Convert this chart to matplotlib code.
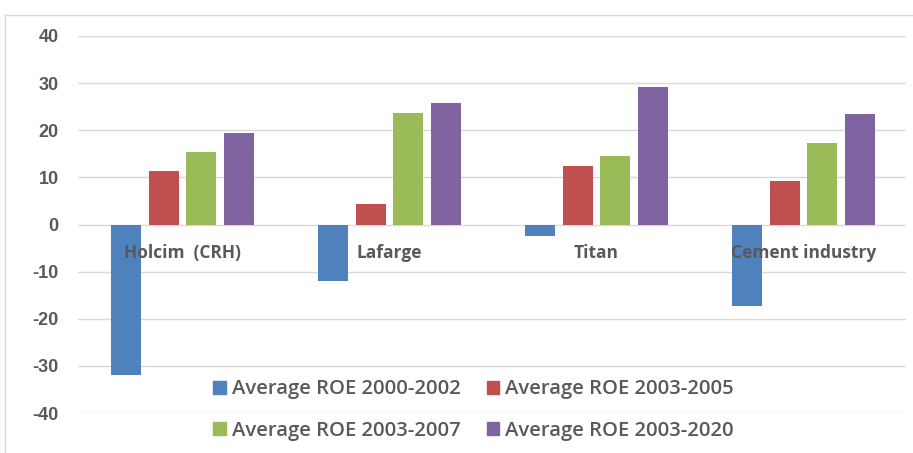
import matplotlib
matplotlib.use("Agg")
import matplotlib.pyplot as plt
from matplotlib.patches import Patch
from matplotlib.lines import Line2D
import numpy as np

categories = ["Holcim  (CRH)", "Lafarge", "Titan", "Cement industry"]
series_names = ["Average ROE 2000-2002", "Average ROE 2003-2005",
                "Average ROE 2003-2007", "Average ROE 2003-2020"]
roe_2000_2002 = [-32.0, -11.9, -2.5, -17.4]
roe_2003_2005 = [11.4, 4.4, 12.5, 9.3]
roe_2003_2007 = [15.3, 23.7, 14.6, 17.4]
roe_2003_2020 = [19.5, 25.8, 29.2, 23.5]
yticks = [-40, -30, -20, -10, 0, 10, 20, 30, 40]

series = [roe_2000_2002, roe_2003_2005, roe_2003_2007, roe_2003_2020]
colors = ["#4F81BD", "#C0504D", "#9BBB59", "#8064A2"]
text_color = "#595959"

fig = plt.figure(figsize=(9.13, 4.53), dpi=100)
W, H = 913, 453
ax = fig.add_axes([78 / W, 1 - 413 / H, (906 - 78) / W, (413 - 36) / H])

x = np.arange(len(categories))
step = 0.183
width = 0.145
offsets = (np.arange(4) - 1.5) * step
for vals, off, c in zip(series, offsets, colors):
    ax.bar(x + off + 0.005, vals, width=width, color=c, zorder=2)

ax.set_xlim(-0.5, len(categories) - 0.5)
ax.set_ylim(-40, 40)
ax.set_yticks(yticks)
ax.set_yticklabels([str(v) for v in yticks], fontsize=13, fontweight="bold",
                   color=text_color, family="Liberation Sans")
ax.tick_params(axis="y", length=0, pad=14)
ax.set_xticks([])
for s in ax.spines.values():
    s.set_visible(False)
ax.grid(axis="y", color="#D9D9D9", linewidth=1, zorder=0)
ax.set_axisbelow(True)

for xi, name in zip(x, categories):
    ax.text(xi + 0.005, -6.0, name, ha="center", va="center", fontsize=12.5,
            fontweight="bold", color=text_color, family="Open Sans", zorder=3)

handles = [Patch(color=c) for c in colors]
order = [0, 2, 1, 3]
leg = fig.legend([handles[i] for i in order], [series_names[i] for i in order],
                 ncol=2, loc="center", bbox_to_anchor=(473.5 / W, 1 - 410 / H),
                 frameon=False,
                 prop={"family": "Open Sans", "size": 14.6, "weight": "semibold"},
                 handlelength=0.6, handleheight=0.6, handletextpad=0.3,
                 columnspacing=1.3, labelspacing=1.05)
for t in leg.get_texts():
    t.set_color(text_color)

# outer frame (partially visible)
fig.add_artist(Line2D([5 / W, 1], [1 - 15 / H, 1 - 15 / H], color="#D9D9D9", lw=1))
fig.add_artist(Line2D([5 / W, 5 / W], [0, 1 - 15 / H], color="#D9D9D9", lw=1))

fig.savefig("out.png", dpi=100)
